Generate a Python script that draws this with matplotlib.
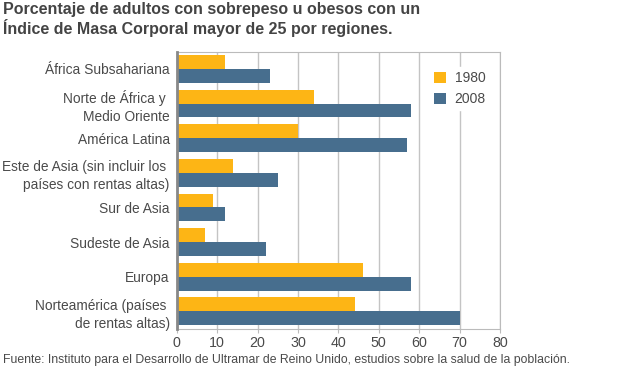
import numpy as np
import matplotlib
matplotlib.use("Agg")
import matplotlib.pyplot as pl

pl.rcParams['font.family'] = ['Liberation Sans', 'DejaVu Sans']

regions = ["África Subsahariana", "Norte de África y \nMedio Oriente", "América Latina",
           "Este de Asia (sin incluir los \npaíses con rentas altas)", "Sur de Asia",
           "Sudeste de Asia", "Europa", "Norteamérica (países \nde rentas altas)"]
v1980 = [12, 34, 30, 14, 9, 7, 46, 44]
v2008 = [23, 58, 57, 25, 12, 22, 58, 70]
years = ["1980", "2008"]
colors = ["#FDB515", "#476E8E"]
xticks = [0, 10, 20, 30, 40, 50, 60, 70, 80]

fig = pl.figure(figsize=(6.24, 3.70), dpi=100)
ax = fig.add_axes([0.2832, 0.110, 0.5181, 0.7503])

y = np.arange(len(regions))
h = 0.4
ax.barh(y - h / 2, v1980, height=h, color=colors[0], label=years[0], zorder=2)
ax.barh(y + h / 2, v2008, height=h, color=colors[1], label=years[1], zorder=2)

ax.set_ylim(len(regions) - 0.5 + 0.02, -0.5 - 0.0)
ax.set_xlim(0, 80)
ax.set_xticks(xticks)
ax.set_yticks(y)
ax.set_yticklabels(regions, fontsize=9.9, color="#4a4a4a", linespacing=1.35)
ax.tick_params(axis='y', length=0, pad=5)
ax.tick_params(axis='x', length=3, color="#bbbbbb", labelsize=10.3, labelcolor="#4a4a4a", pad=2)
ax.grid(axis='x', color="#c4c4c4", lw=1, zorder=0)
for s in ['top', 'right', 'bottom']:
    ax.spines[s].set_color("#bbbbbb")
ax.spines['left'].set_color("#888888")
ax.spines['left'].set_linewidth(2)
ax.spines['left'].set_zorder(3)

leg = ax.legend(loc='upper right', bbox_to_anchor=(0.99, 0.97), frameon=True, fontsize=10,
                handlelength=0.9, handleheight=0.9, handletextpad=0.6, labelspacing=0.5,
                borderpad=0.3, fancybox=False)
leg.get_frame().set_edgecolor("white")
leg.get_frame().set_alpha(1)
for t in leg.get_texts():
    t.set_color("#4a4a4a")

fig.text(0.005, 0.995, "Porcentaje de adultos con sobrepeso u obesos con un\n"
         "Índice de Masa Corporal mayor de 25 por regiones.",
         ha='left', va='top', fontsize=11.5, fontweight='bold', color="#444444", linespacing=1.15)
fig.text(0.005, 0.027, "Fuente: Instituto para el Desarrollo de Ultramar de Reino Unido, "
         "estudios sobre la salud de la población.",
         ha='left', va='center', fontsize=8.8, color="#4a4a4a")

fig.savefig("out.png", dpi=100)
